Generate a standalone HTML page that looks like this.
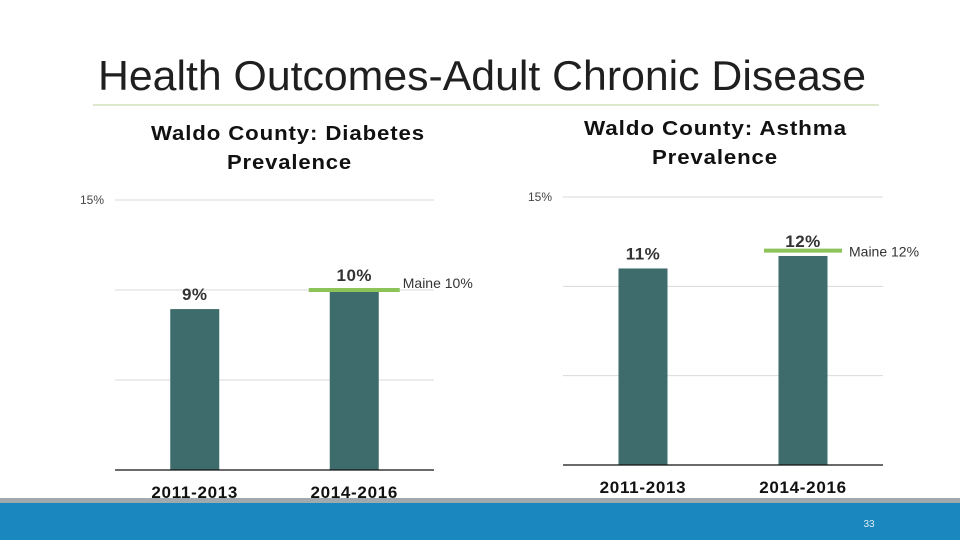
<!DOCTYPE html>
<html><head><meta charset="utf-8"><style>
body{margin:0;width:960px;height:540px;overflow:hidden;background:#fff;font-family:"Liberation Sans",Arial,sans-serif;}
svg{display:block}
</style></head><body>
<svg width="960" height="540" viewBox="0 0 960 540">
<text x="482" y="90" font-size="42" text-anchor="middle" fill="#1f1f1f" textLength="768" lengthAdjust="spacingAndGlyphs">Health Outcomes-Adult Chronic Disease</text>
<line x1="93" y1="105" x2="879" y2="105" stroke="#b9cf9a" stroke-width="1"/>
<g font-size="20.5" font-weight="bold" fill="#111" letter-spacing="0.8">
<text x="151" y="140" textLength="274" lengthAdjust="spacingAndGlyphs">Waldo County: Diabetes</text>
<text x="227" y="169" textLength="125" lengthAdjust="spacingAndGlyphs">Prevalence</text>
</g>
<g font-size="20.5" font-weight="bold" fill="#111" letter-spacing="0.8">
<text x="584" y="135" textLength="263" lengthAdjust="spacingAndGlyphs">Waldo County: Asthma</text>
<text x="652" y="164" textLength="126" lengthAdjust="spacingAndGlyphs">Prevalence</text>
</g>
<g id="left"></g>
<g id="right"></g>
<rect x="0" y="498" width="960" height="6" fill="#a0aaae"/>
<rect x="0" y="503" width="960" height="37" fill="#1a88bf"/>
<text x="869" y="527" font-size="10" text-anchor="middle" fill="#dfeaf2">33</text>
</svg>
<script>
const categories = ["2011-2013", "2014-2016"];
const diabetesValues = [8.94, 10];
const diabetesLabels = ["9%", "10%"];
const diabetesMaine = 10;
const asthmaValues = [11, 11.7];
const asthmaLabels = ["11%", "12%"];
const asthmaMaine = 12;
const yTicks = [0, 5, 10, 15];

const NS = "http://www.w3.org/2000/svg";
function mk(tag, attrs, parent, text){
  const e = document.createElementNS(NS, tag);
  for (const k in attrs) e.setAttribute(k, attrs[k]);
  if (text !== undefined) e.textContent = text;
  parent.appendChild(e);
  return e;
}
function drawChart(g, cfg, values, labels, maine, prefix){
  const y = v => cfg.y0 - (v / 15) * (cfg.y0 - cfg.y15);
  const band = (cfg.x1 - cfg.x0) / categories.length;
  const xc = i => cfg.x0 + band * (i + 0.5);
  yTicks.forEach(t => {
    if (t === 0) return;
    const l = mk("line", {x1: cfg.x0, x2: cfg.x1, y1: y(t), y2: y(t), stroke: "#d9d9d9", "stroke-width": 1}, g);
    
    
  });
  const tl = mk("text", {x: cfg.x0 - 11, y: y(15) + 4, "font-size": 12, "text-anchor": "end", fill: "#444"}, g, "15%");
  
  
  values.forEach((v, i) => {
    const r = mk("rect", {x: xc(i) - 24.5, y: y(v), width: 49, height: y(0) - y(v), fill: "#3e6b6c"}, g);
    
    
    const vl = mk("text", {x: xc(i), y: y(v) - 9, "font-size": 17, "font-weight": "bold", "letter-spacing": 0.5, "text-anchor": "middle", fill: "#333"}, g, labels[i]);
    
    
    const cl = mk("text", {x: xc(i), y: y(0) + 28, "font-size": 17, "font-weight": "bold", "letter-spacing": 0.7, "text-anchor": "middle", fill: "#111"}, g, categories[i]);
    
    
  });
  const axis = mk("line", {x1: cfg.x0, x2: cfg.x1, y1: y(0), y2: y(0), stroke: "#111", "stroke-width": 1.2}, g);
  
  
  const last = categories.length - 1;
  const ml = mk("line", {x1: xc(last) - cfg.mw / 2, x2: xc(last) + cfg.mw / 2, y1: y(maine), y2: y(maine), stroke: "#8dc45a", "stroke-width": 4}, g);
  
  
  const mt = mk("text", {x: xc(last) + cfg.mw / 2 + cfg.mdx, y: y(maine) + cfg.mdy, "font-size": 14, fill: "#333"}, g, "Maine " + maine + "%");
  
  
}
drawChart(document.getElementById("left"), {x0: 115, x1: 434, y0: 470, y15: 200, mw: 91, mdy: -2, mdx: 3}, diabetesValues, diabetesLabels, diabetesMaine, "diabetes");
drawChart(document.getElementById("right"), {x0: 563, x1: 883, y0: 465, y15: 197, mw: 78, mdy: 6, mdx: 7}, asthmaValues, asthmaLabels, asthmaMaine, "asthma");
</script>
</body></html>
